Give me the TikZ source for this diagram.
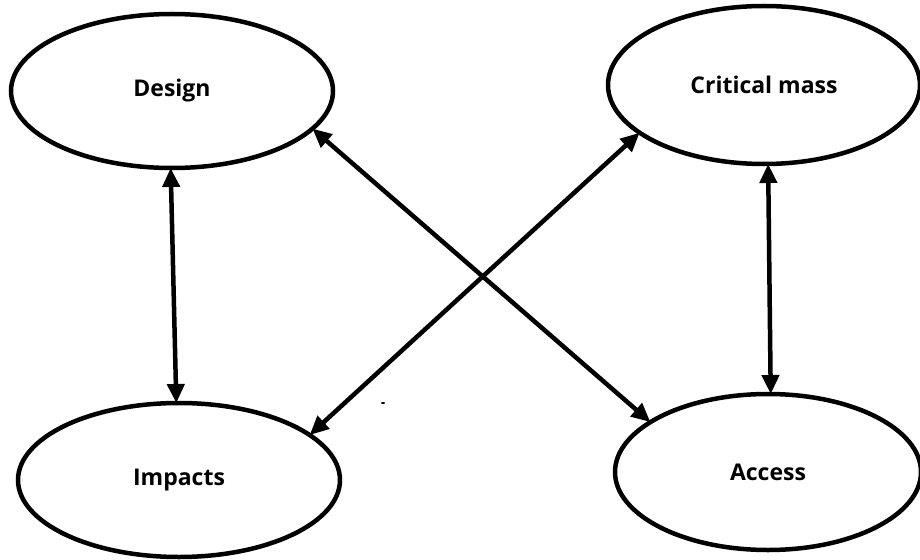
\documentclass[tikz,border=0pt]{standalone}
\usepackage{fontspec}
\setmainfont{Open Sans}
\usetikzlibrary{shapes.geometric,arrows.meta}
\begin{document}
\begin{tikzpicture}[x=1pt,y=-1pt,
  bubble/.style={ellipse,draw=black,line width=4.5pt,inner sep=0pt,outer sep=0pt,
    font=\fontsize{23}{28}\selectfont\bfseries},
  link/.style={line width=4.5pt,{Triangle[length=19pt,width=17pt]}-{Triangle[length=19pt,width=17pt]}}]
\useasboundingbox[fill=white] (0,0) rectangle (920,559);
% the four concepts
\node[bubble,minimum width=322pt,minimum height=154pt] (design) at (172,91) {Design};
\node[bubble,minimum width=312pt,minimum height=158pt] (mass) at (764,85) {Critical mass};
\node[bubble,minimum width=322pt,minimum height=154pt] (impacts) at (179,480) {Impacts};
\node[bubble,minimum width=306pt,minimum height=156pt] (access) at (768,472) {Access};
% two-way links
\draw[link] (design.-91) -- (impacts.92);
\draw[link] (mass.-87) -- (access.88);
\draw[link] (design.-15) -- (access.157);
\draw[link] (mass.201) -- (impacts.19);
% stray speck
\fill (383,403) ellipse (2pt and 1pt);
\end{tikzpicture}
\end{document}
